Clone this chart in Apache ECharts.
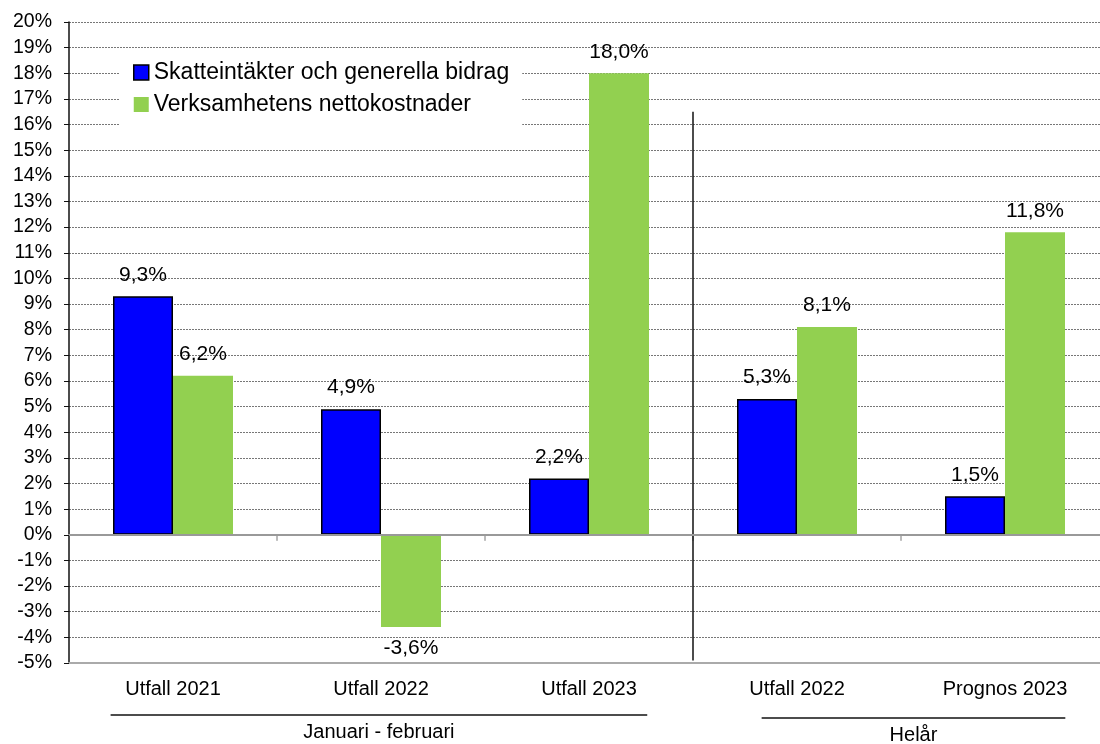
<!DOCTYPE html>
<html>
<head>
<meta charset="utf-8">
<script src="https://cdn.jsdelivr.net/npm/echarts@6/dist/echarts.min.js"></script>
<style>
  html, body { margin: 0; padding: 0; background: #fff; }
  #chart { width: 1100px; height: 744px; }
</style>
</head>
<body>
<div id="chart"></div>
<script>
const categories = ['Utfall 2021', 'Utfall 2022', 'Utfall 2023', 'Utfall 2022', 'Prognos 2023']
const skatter = [9.3, 4.9, 2.2, 5.3, 1.5]
const kostnader = [6.2, -3.6, 18.0, 8.1, 11.8]
const seriesNames = ['Skatteintäkter och generella bidrag', 'Verksamhetens nettokostnader']
const groups = [
  { name: 'Januari - februari', from: 0, to: 2 },
  { name: 'Helår', from: 3, to: 4 }
]

const font = 'Liberation Sans, Arial, sans-serif'
const chart = echarts.init(document.getElementById('chart'))

function fmt(v) {
  return v.toFixed(1).replace('.', ',') + '%'
}

const labelOpt = {
  show: true,
  position: 'top',
  distance: 11,
  fontFamily: font,
  fontSize: 21,
  color: '#000',
  formatter: p => fmt(p.value)
}

// negative bars get their label underneath
const withLabels = arr => arr.map(v => ({
  value: v,
  label: { position: v < 0 ? 'bottom' : 'top' }
}))

chart.setOption({
  animation: false,
  // plot runs a bit past the right edge, like the original
  grid: { left: 69, width: 1040, top: 22, bottom: 81, outerBoundsMode: 'none', containLabel: false },
  legend: {
    orient: 'vertical',
    left: 120,
    top: 52,
    padding: [9, 13, 9, 13],
    itemGap: 9,
    itemWidth: 15,
    itemHeight: 15,
    backgroundColor: '#fff',
    textStyle: { fontFamily: font, fontSize: 23, color: '#000' },
    data: [
      { name: seriesNames[0], icon: 'rect', itemStyle: { borderColor: '#000', borderWidth: 1.5 } },
      { name: seriesNames[1], icon: 'rect' }
    ]
  },
  xAxis: [
    {
      type: 'category',
      data: categories,
      position: 'bottom',
      axisLine: { onZero: false, lineStyle: { color: '#aaa', width: 2 } },
      axisTick: { show: false },
      axisLabel: { fontFamily: font, fontSize: 20, color: '#000', margin: 16 }
    },
    {
      type: 'category',
      data: categories,
      position: 'top',
      axisLine: { lineStyle: { color: '#aaa', width: 2 } },
      axisTick: { show: false },
      axisLabel: { show: false }
    }
  ],
  yAxis: {
    type: 'value',
    min: -5,
    max: 20,
    interval: 1,
    axisLine: { show: true, lineStyle: { color: '#111', width: 1.5 } },
    axisTick: { show: true, length: 5, lineStyle: { color: '#111' } },
    axisLabel: { fontFamily: font, fontSize: 19.5, color: '#000', margin: 17, formatter: '{value}%' },
    splitLine: { lineStyle: { color: '#777', type: [2, 1], width: 1 } }
  },
  series: [
    {
      name: seriesNames[0],
      type: 'bar',
      data: withLabels(skatter),
      barWidth: 60,
      barGap: '0%',
      itemStyle: { color: '#0000ff', borderColor: '#000', borderWidth: 1.5 },
      label: labelOpt,
      markLine: {
        silent: true,
        symbol: 'none',
        label: { show: false },
        lineStyle: { color: '#999', type: 'solid', width: 2 },
        data: [{ yAxis: 0 }]
      }
    },
    {
      name: seriesNames[1],
      type: 'bar',
      data: withLabels(kostnader),
      barWidth: 60,
      itemStyle: { color: '#92d050' },
      label: labelOpt
    }
  ]
})

// separator + group brackets below the axis
const px = i => chart.convertToPixel({ xAxisIndex: 0 }, i)
const py = v => chart.convertToPixel({ yAxisIndex: 0 }, v)
const step = px(1) - px(0)
const sepX = px(2) + step / 2
const elements = []
// small ticks on the zero line between categories
for (let i = 0; i < categories.length - 1; i++) {
  const tx = px(i) + step / 2
  elements.push({
    type: 'line',
    shape: { x1: tx, y1: py(0), x2: tx, y2: py(0) + 6 },
    style: { stroke: '#777', lineWidth: 1 }
  })
}
elements.push({
  type: 'line',
  shape: { x1: sepX, y1: py(16.5), x2: sepX, y2: py(-4.9) },
  style: { stroke: '#111', lineWidth: 1.5 }
})
const bracketY = [715, 718]
const leftPad = [0.30, 0.17]
const rightPad = [0.28, 0.29]
groups.forEach((g, k) => {
  const x1 = px(g.from) - step * leftPad[k]
  const x2 = px(g.to) + step * rightPad[k]
  elements.push({
    type: 'line',
    shape: { x1: x1, y1: bracketY[k], x2: x2, y2: bracketY[k] },
    style: { stroke: '#111', lineWidth: 1.5 }
  })
  elements.push({
    type: 'text',
    x: (x1 + x2) / 2,
    y: bracketY[k] + 7,
    style: {
      text: g.name,
      fontFamily: font,
      fontSize: 20,
      fill: '#000',
      align: 'center',
      verticalAlign: 'top'
    }
  })
})
chart.setOption({ graphic: elements })
</script>
</body>
</html>
